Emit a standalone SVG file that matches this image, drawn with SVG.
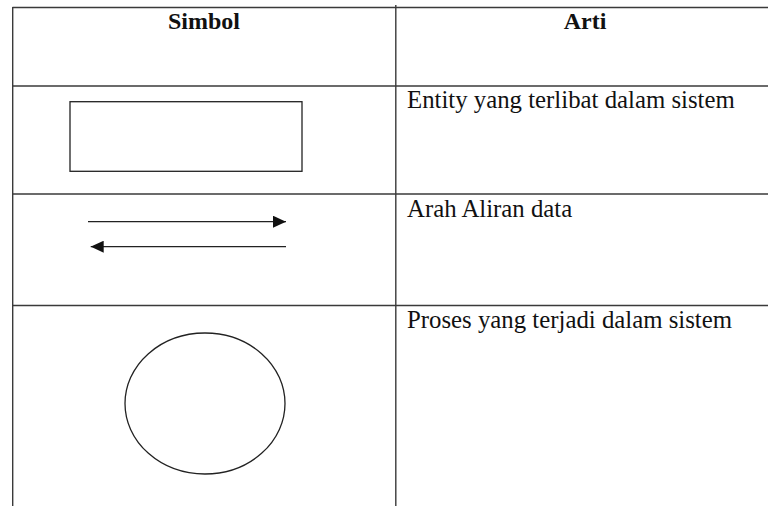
<svg xmlns="http://www.w3.org/2000/svg" width="768" height="506" viewBox="0 0 768 506">
<style>
.grid{stroke:#3a3a3a;stroke-width:1.4;fill:none}
.shape{stroke:#222;stroke-width:1.3;fill:none}
.hd{font-family:"Liberation Serif","Times New Roman",serif;font-weight:bold;font-size:24px;fill:#111;text-anchor:middle}
.tx{font-family:"Liberation Serif","Times New Roman",serif;font-size:24.8px;fill:#111}
</style>
<defs>
<marker id="ah" viewBox="0 0 13 12" refX="13" refY="6" markerWidth="13" markerHeight="12" markerUnits="userSpaceOnUse" orient="auto">
<path d="M0,0 L13,6 L0,12 Z" fill="#111"/>
</marker>
</defs>
<rect width="768" height="506" fill="#fff"/>
<g id="table">
<line class="grid" x1="12.5" y1="7.5" x2="768" y2="7.5"/>
<line class="grid" x1="12.5" y1="86" x2="768" y2="86"/>
<line class="grid" x1="12.5" y1="194" x2="768" y2="194"/>
<line class="grid" x1="12.5" y1="305.5" x2="768" y2="305.5"/>
<line class="grid" x1="12.7" y1="7" x2="12.7" y2="506"/>
<line class="grid" x1="395.8" y1="5" x2="395.8" y2="506"/>
</g>
<g id="header">
<text class="hd" x="204" y="29.3">Simbol</text>
<text class="hd" x="585" y="29.3">Arti</text>
</g>
<g id="entity">
<rect class="shape" x="70" y="101.7" width="232" height="69.6"/>
<text class="tx" x="407" y="108.2">Entity yang terlibat dalam sistem</text>
</g>
<g id="connectors">
<line class="shape" x1="88" y1="221.7" x2="286" y2="221.7" marker-end="url(#ah)"/>
<line class="shape" x1="286" y1="246.7" x2="90.7" y2="246.7" marker-end="url(#ah)"/>
</g>
<g id="flow">
<text class="tx" x="407" y="216.6">Arah Aliran data</text>
</g>
<g id="process">
<ellipse class="shape" cx="205" cy="403.5" rx="80" ry="70.5"/>
<text class="tx" x="407" y="328.3">Proses yang terjadi dalam sistem</text>
</g>
</svg>
